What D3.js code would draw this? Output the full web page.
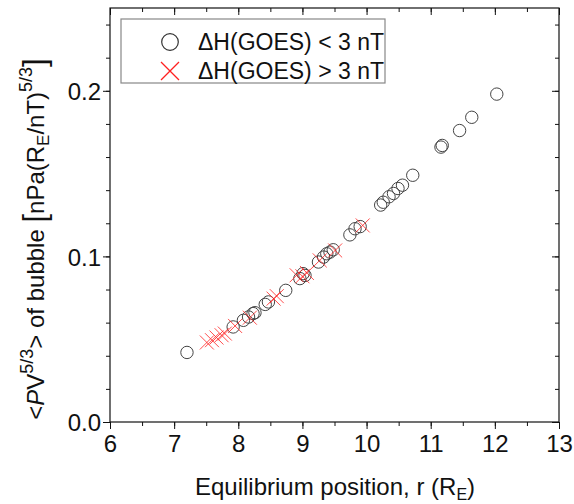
<!DOCTYPE html>
<html>
<head>
<meta charset="utf-8">
<script src="https://cdn.jsdelivr.net/npm/d3@7"></script>
<style>
  body { margin: 0; background: #fff; }
  text { font-family: "Liberation Sans", Arial, sans-serif; fill: #111; }
</style>
</head>
<body>
<div id="chart"></div>
<script>
// Data

// circles : dH(GOES) < 3 nT
var circleR = [7.20, 7.92, 8.08, 8.16, 8.23, 8.26, 8.42, 8.47, 8.74, 8.96, 9.01, 9.04, 9.25, 9.33, 9.38, 9.43, 9.48,
               9.74, 9.82, 9.90, 10.22, 10.26, 10.35, 10.42, 10.49, 10.56, 10.72, 11.16, 11.18, 11.45, 11.64, 12.03];
var circleV = [0.042, 0.0574, 0.0614, 0.0634, 0.0655, 0.066, 0.071, 0.0725, 0.0795, 0.0866, 0.0896, 0.0885, 0.0966, 0.0996, 0.1016, 0.1026, 0.104,
               0.113, 0.1167, 0.118, 0.131, 0.1327, 0.136, 0.138, 0.141, 0.143, 0.149, 0.166, 0.167, 0.176, 0.184, 0.198];

// crosses : dH(GOES) > 3 nT
var crossR = [7.51, 7.59, 7.66, 7.74, 7.79, 7.95, 8.18, 8.55, 8.60, 8.91, 9.00, 9.07, 9.27, 9.51, 9.94];
var crossV = [0.048, 0.0494, 0.051, 0.0524, 0.0534, 0.058, 0.063, 0.0745, 0.076, 0.0886, 0.088, 0.090, 0.0976, 0.1036, 0.1187];

var xTicks = [6, 7, 8, 9, 10, 11, 12, 13];
var yTicks = [0.0, 0.1, 0.2];
var legendLabels = ["\u0394H(GOES) < 3 nT", "\u0394H(GOES) > 3 nT"];

var W = 574, H = 504;
var plot = {"left" : 110, "right" : 559, "top" : 8, "bottom" : 422};

var svg = d3.select("#chart")
            .append("svg")
            .attr("width", W)
            .attr("height", H);

var x = d3.scaleLinear().domain([6, 13]).range([plot.left, plot.right]);
var y = d3.scaleLinear().domain([0, 0.25]).range([plot.bottom, plot.top]);

var minorX = d3.range(6, 13.01, 0.5);
var minorY = d3.range(0, 0.2501, 0.02);

// Axes (bottom/left outward ticks, top/right mirror ticks inward)

svg.append("g")
   .attr("transform", "translate(0," + plot.bottom + ")")
   .call(d3.axisBottom(x).tickValues(minorX).tickSize(4).tickFormat(""))
   .call(function(g){ g.select(".domain").remove(); });

svg.append("g")
   .attr("transform", "translate(0," + plot.bottom + ")")
   .call(d3.axisBottom(x).tickValues(xTicks).tickSize(7).tickPadding(6).tickFormat(d3.format("d")))
   .call(function(g){
       g.select(".domain").remove();
       g.selectAll("text").attr("font-size", 24).attr("fill", "#111").attr("font-family", "Liberation Sans, Arial, sans-serif");
   });

svg.append("g")
   .attr("transform", "translate(" + plot.left + ",0)")
   .call(d3.axisLeft(y).tickValues(minorY).tickSize(4).tickFormat(""))
   .call(function(g){ g.select(".domain").remove(); });

svg.append("g")
   .attr("transform", "translate(" + plot.left + ",0)")
   .call(d3.axisLeft(y).tickValues(yTicks).tickSize(7).tickPadding(2).tickFormat(d3.format(".1f")))
   .call(function(g){
       g.select(".domain").remove();
       g.selectAll("text").attr("font-size", 24).attr("dy", "0.36em").attr("fill", "#111").attr("font-family", "Liberation Sans, Arial, sans-serif");
   });

svg.append("g")
   .attr("transform", "translate(0," + plot.top + ")")
   .call(d3.axisTop(x).tickValues(minorX).tickSize(-4).tickFormat(""))
   .call(function(g){ g.select(".domain").remove(); });

svg.append("g")
   .attr("transform", "translate(0," + plot.top + ")")
   .call(d3.axisTop(x).tickValues(xTicks).tickSize(-7).tickFormat(""))
   .call(function(g){ g.select(".domain").remove(); });

svg.append("g")
   .attr("transform", "translate(" + plot.right + ",0)")
   .call(d3.axisRight(y).tickValues(minorY).tickSize(-4).tickFormat(""))
   .call(function(g){ g.select(".domain").remove(); });

svg.append("g")
   .attr("transform", "translate(" + plot.right + ",0)")
   .call(d3.axisRight(y).tickValues(yTicks).tickSize(-7).tickFormat(""))
   .call(function(g){ g.select(".domain").remove(); });

svg.selectAll(".tick line").attr("stroke", "#111");

// frame
svg.append("rect")
   .attr("x", plot.left)
   .attr("y", plot.top)
   .attr("width", plot.right - plot.left)
   .attr("height", plot.bottom - plot.top)
   .attr("fill", "none")
   .attr("stroke", "#111")
   .attr("stroke-width", 1.2);

// Points

var circles = svg.append("g").selectAll("circle")
    .data(d3.range(circleR.length))
    .enter()
        .append("circle")
        .attr("cx", function(i){ return x(circleR[i]); })
        .attr("cy", function(i){ return y(circleV[i]); })
        .attr("r", 6.2)
        .attr("fill", "none")
        .attr("stroke", "#444")
        .attr("stroke-width", 1);

var crosses = svg.append("g").selectAll("path")
    .data(d3.range(crossR.length))
    .enter()
        .append("path")
        .attr("d", function(i){ return crossPath(x(crossR[i]), y(crossV[i]), 7); })
        .attr("fill", "none")
        .attr("stroke", "#ff2020")
        .attr("stroke-opacity", 0.8)
        .attr("stroke-width", 1);

// Legend

var legend = svg.append("g");

legend.append("rect")
      .attr("x", 121).attr("y", 19)
      .attr("width", 264).attr("height", 64)
      .attr("fill", "#fff")
      .attr("stroke", "#888")
      .attr("stroke-width", 1.2);

legend.append("circle")
      .attr("cx", 170).attr("cy", 42).attr("r", 8.3)
      .attr("fill", "none").attr("stroke", "#333").attr("stroke-width", 1.2);

legend.append("path")
      .attr("d", crossPath(170, 71, 9))
      .attr("fill", "none").attr("stroke", "#ff2020").attr("stroke-width", 1.3);

legend.selectAll("text")
      .data(legendLabels)
      .enter()
          .append("text")
          .attr("x", 198)
          .attr("y", function(d, i){ return 50 + i * 29; })
          .attr("font-size", 23)
          .text(function(d){ return d; });

// Axis titles

var xTitle = svg.append("text")
    .attr("x", 335)
    .attr("y", 495)
    .attr("text-anchor", "middle")
    .attr("font-size", 24);
xTitle.append("tspan").text("Equilibrium position, r (R");
xTitle.append("tspan").attr("font-size", 16).attr("dy", 5).text("E");
xTitle.append("tspan").attr("dy", -5).text(")");

var yTitle = svg.append("text")
    .attr("transform", "translate(44,239) rotate(-90)")
    .attr("text-anchor", "middle")
    .attr("font-size", 24);
yTitle.append("tspan").text("<");
yTitle.append("tspan").attr("font-style", "italic").text("P");
yTitle.append("tspan").text("V");
yTitle.append("tspan").attr("font-size", 18).attr("dy", -11).text("5/3");
yTitle.append("tspan").attr("dy", 11).text("> of bubble ");
yTitle.append("tspan").attr("font-size", 31).attr("dy", 1).text("[");
yTitle.append("tspan").attr("dy", -1).text("nPa(R");
yTitle.append("tspan").attr("font-size", 17).attr("dy", 5).text("E");
yTitle.append("tspan").attr("dy", -5).text("/nT)");
yTitle.append("tspan").attr("font-size", 18).attr("dy", -12).text("5/3");
yTitle.append("tspan").attr("font-size", 31).attr("dy", 13).text("]");


function crossPath(cx, cy, s)
{
    return "M" + (cx - s) + "," + (cy - s) + "L" + (cx + s) + "," + (cy + s) +
           "M" + (cx - s) + "," + (cy + s) + "L" + (cx + s) + "," + (cy - s);
}
</script>
</body>
</html>
